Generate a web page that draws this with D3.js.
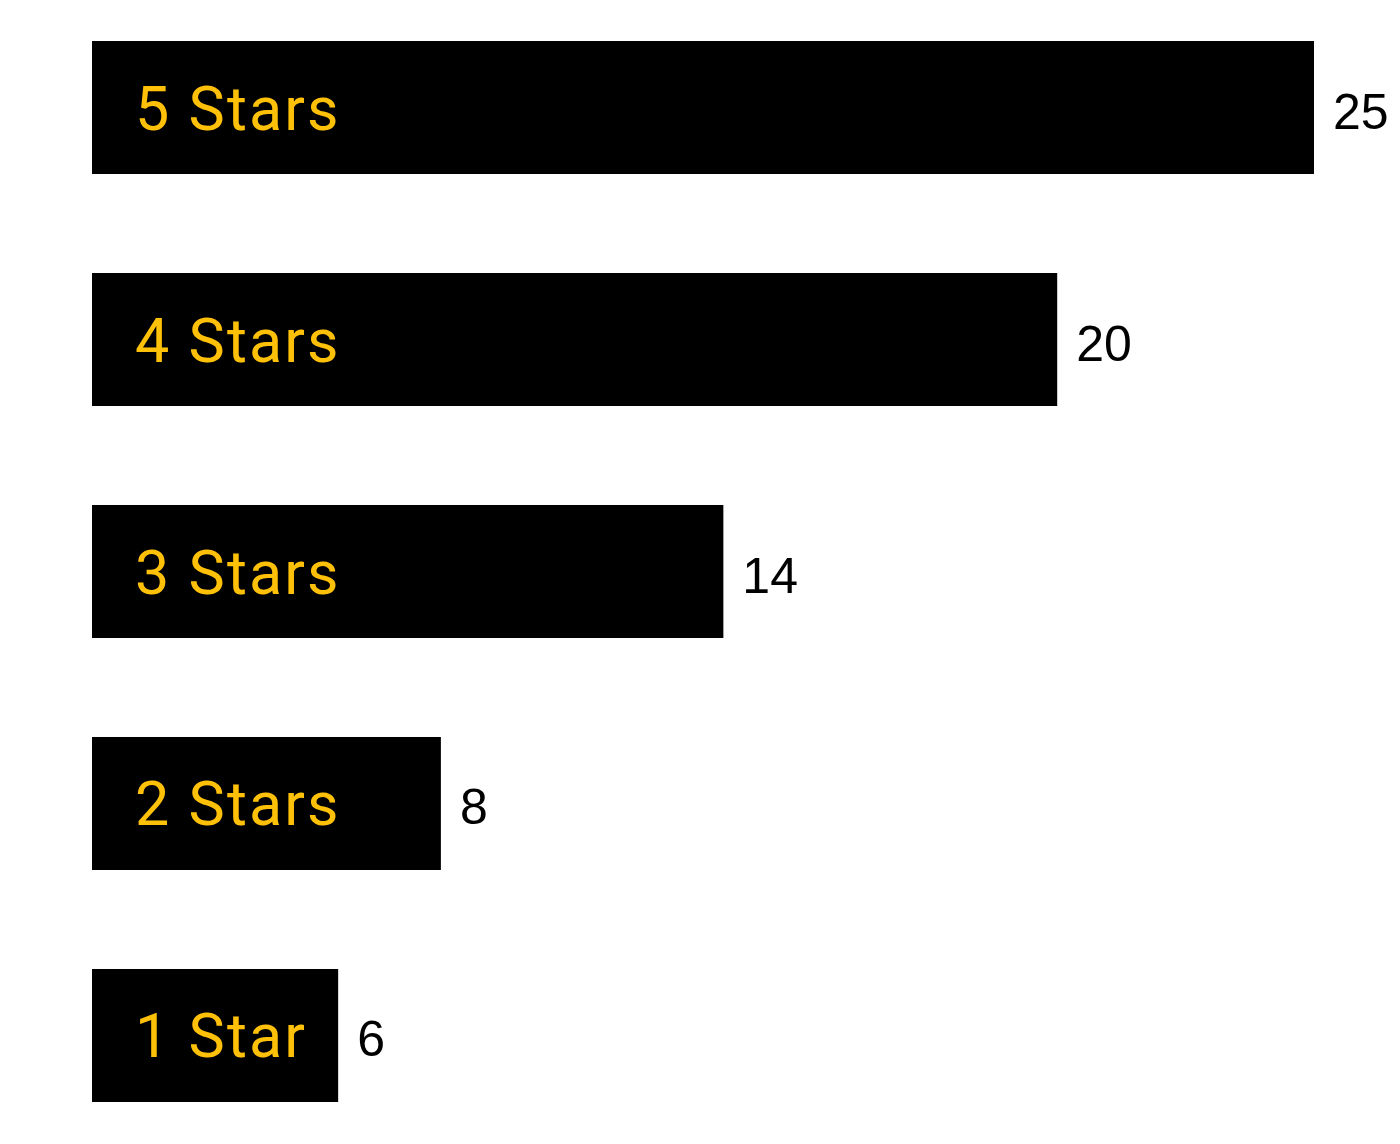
<!DOCTYPE html>
<html>
<head>
<meta charset="utf-8">
<script src="https://cdn.jsdelivr.net/npm/d3@7"></script>
<style>
  html, body { margin: 0; padding: 0; background: #fff; }
  svg { display: block; }
</style>
</head>
<body>
<svg id="chart" width="1400" height="1144"></svg>
<script>
const categories = ["5 Stars", "4 Stars", "3 Stars", "2 Stars", "1 Star"];
const values = [25, 20.0, 13.5, 8, 6];
const valueLabels = ["25", "20", "14", "8", "6"];

const svg = d3.select("#chart");
const barLeft = 92;

const x = d3.scaleLinear().domain([0, 25]).range([30, 1314]);
const y = d3.scaleBand().domain(categories).range([41, 1102]).paddingInner(0.4267).paddingOuter(0);

const data = categories.map((c, i) => ({ cat: c, v: values[i], label: valueLabels[i] }));

const g = svg.append("g");

g.selectAll("rect.bar").data(data).join("rect")
  .attr("class", "bar")
  .attr("x", barLeft)
  .attr("y", d => y(d.cat))
  .attr("width", d => x(d.v) - barLeft)
  .attr("height", y.bandwidth())
  .attr("fill", "#000");

g.selectAll("text.cat").data(data).join("text")
  .attr("class", "cat")
  .attr("x", barLeft + 43)
  .attr("y", d => y(d.cat) + y.bandwidth() / 2 + 1)
  .attr("dominant-baseline", "central")
  .attr("fill", "#FFC107")
  .style("font-family", "Roboto, sans-serif")
  .style("font-size", "61px")
  .style("letter-spacing", "2.1px")
  .text(d => d.cat);

g.selectAll("text.val").data(data).join("text")
  .attr("class", "val")
  .attr("x", d => x(d.v) + 19)
  .attr("y", d => y(d.cat) + y.bandwidth() / 2 + 4)
  .attr("dominant-baseline", "central")
  .attr("fill", "#000")
  .style("font-family", "'Liberation Sans', Arial, sans-serif")
  .style("font-size", "50px")
  .text(d => d.label);
</script>
</body>
</html>
